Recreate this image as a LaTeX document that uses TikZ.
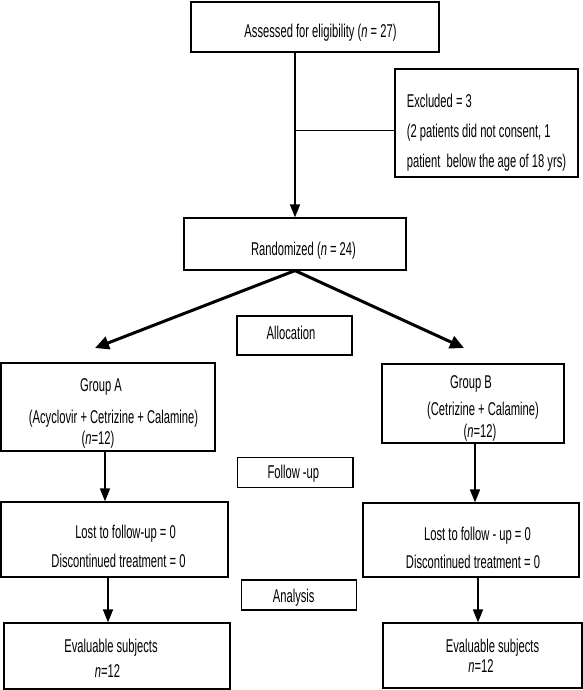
\documentclass[tikz,border=0pt]{standalone}
\usepackage{fontspec}
\setmainfont{Liberation Sans}[FakeStretch=0.605]
\usetikzlibrary{arrows.meta}
\newcommand{\boxfont}[1]{\fontsize{18.5pt}{#1}\selectfont}
\newcommand{\topst}[1]{\rule{0pt}{#1}}
\newcommand{\botst}[1]{\rule[-#1]{0pt}{#1}}
\begin{document}
\begin{tikzpicture}[x=1pt,y=-1pt,
  box/.style={draw=black, line width=1.2pt, inner sep=0pt, align=center,
    font=\boxfont{22pt}},
  one/.style={text height=#1, text depth=0pt},
  arr/.style={line width=1.5pt, -{Triangle[length=13pt,width=10pt]}},
  bigarr/.style={line width=3pt, -{Triangle[length=14pt,width=13pt]}},
  link/.style={line width=1pt}]
\useasboundingbox (0,0) rectangle (583,690);
\fill[white] (0,0) rectangle (583,690);
% boxes
\node[box, one=22pt, minimum width=248pt, minimum height=50pt] (assess) at (315,27)
  {\hspace*{11pt}Assessed for eligibility (\textit{n} = 27)};
\node[box, minimum width=183pt, minimum height=108pt, align=left, font=\boxfont{30pt}] (excl) at (486.5,123)
  {\topst{33pt}Excluded = 3\\(2 patients did not consent, 1\\patient\ \ below the age of 18 yrs)\botst{5pt}};
\node[box, one=22pt, minimum width=222pt, minimum height=52pt] (rand) at (295,244)
  {\hspace*{17pt}Randomized (\textit{n} = 24)};
\node[box, one=7pt, minimum width=115pt, minimum height=39pt] (alloc) at (294.5,335.5)
  {\hspace*{-7pt}Allocation};
\node[box, minimum width=214pt, minimum height=88pt, font=\boxfont{21pt}] (grpA) at (108,407)
  {\topst{26pt}\hspace*{-14pt}Group A\\[11pt]\hspace*{11pt}(Acyclovir + Cetrizine + Calamine)\\\hspace*{-20pt}(\textit{n}=12)\botst{5pt}};
\node[box, minimum width=182pt, minimum height=79pt, font=\boxfont{22pt}] (grpB) at (473,403.5)
  {\topst{23pt}\hspace*{-4pt}Group B\\[5pt]\hspace*{20pt}(Cetrizine + Calamine)\\\hspace*{14pt}(\textit{n}=12)\botst{5pt}};
\node[box, one=11pt, minimum width=115.3pt, minimum height=29.6pt] (follow) at (295.3,472.5)
  {\hspace*{-4pt}Follow\,-up};
\node[box, minimum width=227pt, minimum height=75pt, font=\boxfont{29pt}] (lostA) at (114.5,539.5)
  {\topst{31pt}\hspace*{22pt}Lost to follow-up = 0\\\hspace*{8pt}Discontinued treatment = 0\botst{5pt}};
\node[box, minimum width=216pt, minimum height=74pt, font=\boxfont{28pt}] (lostB) at (471,540)
  {\topst{33pt}\hspace*{13pt}Lost to follow\,-\,up = 0\\\hspace*{4pt}Discontinued treatment = 0\botst{5pt}};
\node[box, one=14pt, minimum width=115pt, minimum height=30pt] (analysis) at (299.2,595)
  {\hspace*{-11pt}Analysis};
\node[box, minimum width=226pt, minimum height=66pt, font=\boxfont{25pt}] (evalA) at (117,656)
  {\topst{22pt}\hspace*{-12pt}Evaluable subjects\\\hspace*{-19pt}\textit{n}=12\botst{5pt}};
\node[box, minimum width=199pt, minimum height=65pt, font=\boxfont{20pt}] (evalB) at (482.5,655.5)
  {\topst{18pt}\hspace*{20pt}Evaluable subjects\\\hspace*{-3pt}\textit{n}=12\botst{5pt}};
% connectors
\draw[arr] (rand.north |- assess.south) -- (rand.north);
\coordinate (junc) at (295,130);
\draw[link] (junc) -- (junc -| excl.west);
\coordinate (tipA) at (95,348);
\coordinate (tipB) at (464,348);
\draw[bigarr] (rand.south) -- (tipA);
\draw[bigarr] (rand.south) -- (tipB);
\coordinate (a1) at (105,0);
\coordinate (b1) at (475,0);
\coordinate (a2) at (108,0);
\coordinate (b2) at (478,0);
\draw[arr] (a1 |- grpA.south) -- (a1 |- lostA.north);
\draw[arr] (b1 |- grpB.south) -- (b1 |- lostB.north);
\draw[arr] (a2 |- lostA.south) -- (a2 |- evalA.north);
\draw[arr] (b2 |- lostB.south) -- (b2 |- evalB.north);
\end{tikzpicture}
\end{document}
